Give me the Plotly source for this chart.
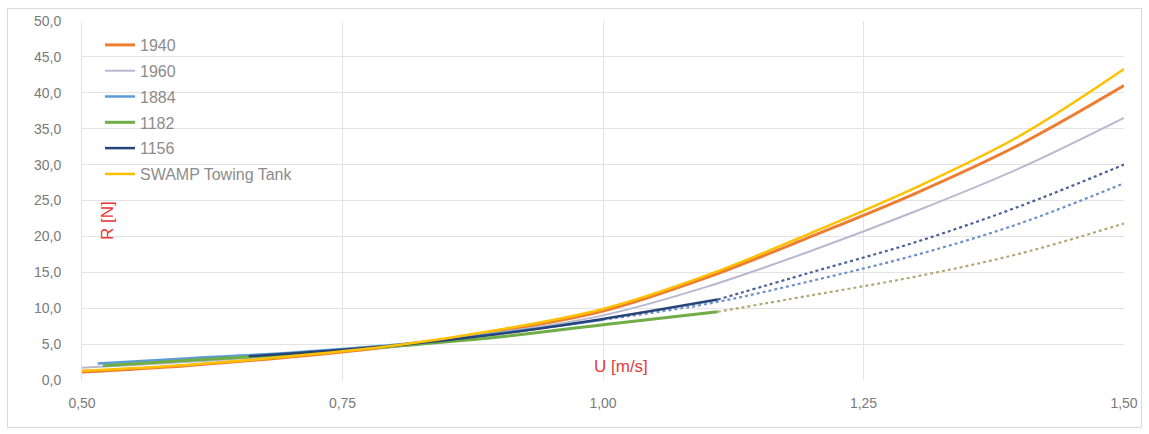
import plotly.graph_objects as go

# ---- data ----
U_full = [0.50, 0.60, 0.70, 0.80, 0.90, 1.00, 1.10, 1.20, 1.30, 1.40, 1.50]

r_1940 = [1.1, 2.0, 3.2, 4.7, 6.8, 9.6, 14.3, 20.0, 26.0, 32.8, 41.0]
r_swamp = [1.3, 2.1, 3.3, 4.8, 7.0, 9.9, 14.6, 20.5, 26.8, 34.0, 43.3]
r_1960 = [1.7, 2.5, 3.5, 4.8, 6.6, 9.0, 13.0, 18.0, 23.5, 29.5, 36.5]

U_1884 = [0.515, 0.60, 0.70, 0.80, 0.90, 1.00]
r_1884 = [2.3, 3.0, 3.8, 4.9, 6.5, 8.4]
U_1884_t = [1.00, 1.10, 1.20, 1.30, 1.40, 1.50]
r_1884_t = [8.4, 10.6, 13.8, 17.4, 21.8, 27.4]

U_1182 = [0.52, 0.60, 0.70, 0.80, 0.90, 1.00, 1.11]
r_1182 = [2.0, 2.7, 3.6, 4.7, 6.0, 7.7, 9.5]
U_1182_t = [1.11, 1.20, 1.30, 1.40, 1.50]
r_1182_t = [9.5, 11.8, 14.4, 17.6, 21.8]

U_1156 = [0.66, 0.70, 0.80, 0.90, 1.00, 1.11]
r_1156 = [3.3, 3.7, 4.8, 6.4, 8.5, 11.2]
U_1156_t = [1.11, 1.20, 1.30, 1.40, 1.50]
r_1156_t = [11.2, 15.0, 19.2, 24.2, 30.0]

x_ticks = [0.50, 0.75, 1.00, 1.25, 1.50]
y_ticks = [0, 5, 10, 15, 20, 25, 30, 35, 40, 45, 50]

C_1940 = "#ED7D31"
C_1960 = "#B7B9CF"
C_1884 = "#5B9BD5"
C_1182 = "#70AD47"
C_1156 = "#264478"
C_SWAMP = "#FFC000"

fig = go.Figure()

def solid(x, y, name, color, width=2.5, group=None):
    fig.add_trace(go.Scatter(x=x, y=y, mode="lines", name=name,
                             line=dict(color=color, width=width, shape="spline"),
                             legendgroup=group or name))

def dotted(x, y, color, group, width=2.2):
    fig.add_trace(go.Scatter(x=x, y=y, mode="lines", showlegend=False,
                             line=dict(color=color, width=width, dash="dot", shape="spline"),
                             legendgroup=group))

# dotted trend extensions (drawn first, beneath)
dotted(U_1182_t, r_1182_t, "#B5A878", "1182")
dotted(U_1884_t, r_1884_t, "#6E8FC8", "1884")
dotted(U_1156_t, r_1156_t, "#4A5F95", "1156")

solid(U_full, r_1940, "1940", C_1940, 3)
solid(U_full, r_1960, "1960", C_1960, 2)
solid(U_1884, r_1884, "1884", C_1884, 2.5)
solid(U_1182, r_1182, "1182", C_1182, 3)
solid(U_1156, r_1156, "1156", C_1156, 2.5)
solid(U_full, r_swamp, "SWAMP Towing Tank", C_SWAMP, 2.5)

W, H = 1149, 434
L, T, R, B = 82, 21, 25, 54
pw, ph = W - L - R, H - T - B

def px(xp):
    return (xp - L) / pw

def py(yp):
    return (H - B - yp) / ph

fig.update_layout(
    width=W, height=H,
    margin=dict(l=L, r=R, t=T, b=B),
    paper_bgcolor="white", plot_bgcolor="white",
    separators=",.",
    font=dict(family="Liberation Sans, Arial, sans-serif", color="#595959", size=14),
    xaxis=dict(range=[0.5, 1.5], tickvals=x_ticks, tickformat=".2f",
               showgrid=True, gridcolor="#E3E3E3", gridwidth=1,
               zeroline=False, showline=False, ticks="",
               ticklabelstandoff=13,
               tickfont=dict(size=14, color="#7A7A7A")),
    yaxis=dict(range=[0, 50], tickvals=y_ticks, tickformat=".1f",
               showgrid=True, gridcolor="#E3E3E3", gridwidth=1,
               zeroline=False, showline=True, linecolor="#E3E3E3", ticks="",
               ticklabelstandoff=17,
               tickfont=dict(size=14, color="#7A7A7A")),
    legend=dict(x=px(100), y=py(28), xanchor="left", yanchor="top",
                bgcolor="rgba(255,255,255,0)", traceorder="grouped",
                tracegroupgap=2,
                font=dict(size=16, color="#8C8C8C")),
    showlegend=True,
    annotations=[
        dict(text="R [N]", x=px(107), y=py(221), xref="paper", yref="paper",
             xanchor="center", yanchor="middle",
             textangle=-90, showarrow=False, font=dict(size=17, color="#E8393A")),
        dict(text="U [m/s]", x=px(621), y=py(366), xref="paper", yref="paper",
             xanchor="center", yanchor="middle",
             showarrow=False, font=dict(size=17, color="#E8393A")),
    ],
    shapes=[
        dict(type="rect", xref="paper", yref="paper",
             x0=px(7.5), x1=px(1141.5), y0=py(427.5), y1=py(8.5),
             line=dict(color="#D9D9D9", width=1), fillcolor="rgba(0,0,0,0)", layer="below"),
    ],
)

fig.write_html("out.html", config={"displayModeBar": False},
               post_script="document.body.style.margin='0';document.body.style.overflow='hidden';")
